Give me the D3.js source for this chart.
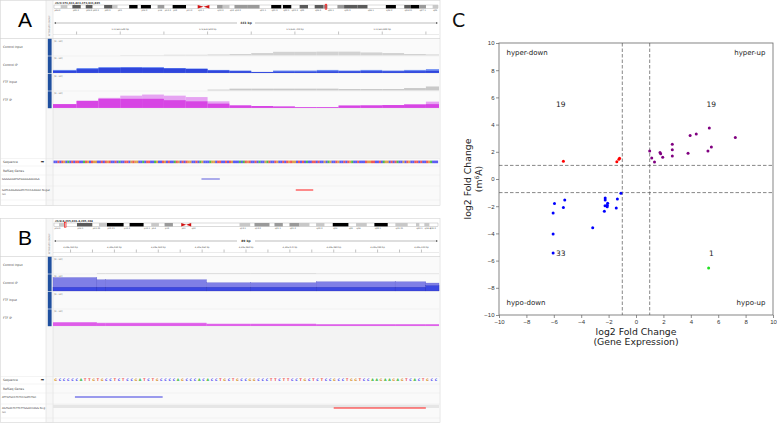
<!DOCTYPE html>
<html>
<head>
<meta charset="utf-8">
<script src="https://cdn.jsdelivr.net/npm/d3@7"></script>
<style>
  body { margin: 0; background: #fff; }
  svg { display: block; font-family: "DejaVu Sans", sans-serif; }
</style>
</head>
<body>
<svg id="fig" width="777" height="424"></svg>
<script>
// ---------- scatter (panel C) data ----------
const hyperUpX   = [1.0, 1.15, 1.35, 1.75, 1.8, 1.95, 2.65, 2.65, 2.65, 3.8, 3.95, 4.4, 5.25, 5.5, 5.35, 7.25];
const hyperUpY   = [2.05, 1.55, 1.25, 1.95, 1.85, 1.6, 2.55, 2.15, 1.7, 1.9, 3.2, 3.3, 2.05, 2.35, 3.75, 3.05];
const hyperDownX = [-5.3, -1.4, -1.25, -1.2];
const hyperDownY = [1.3, 1.27, 1.45, 1.52];
const hypoDownX  = [-1.1, -5.95, -5.2, -6.05, -5.3, -2.25, -2.25, -2.07, -2.1, -2.26, -2.1, -2.31, -1.36, -1.44, -3.16, -6.05, -6.05];
const hypoDownY  = [-1.05, -1.8, -1.55, -2.5, -2.1, -1.4, -1.55, -1.79, -1.93, -1.96, -2.04, -2.38, -1.47, -2.13, -3.58, -4.05, -5.45];
const hypoUpX    = [5.3];
const hypoUpY    = [-6.55];
const quadrantNames  = ["hyper-down", "hyper-up", "hypo-down", "hypo-up"];
const quadrantCounts = [19, 19, 33, 1];
const axisTicks = [-10, -8, -6, -4, -2, 0, 2, 4, 6, 8, 10];
const cutoffs = [-1, 1];

// ---------- genome browser (panels A, B) data ----------
const trackNames = ["Control Input", "Control IP", "FTF Input", "FTF IP"];

const regionA = {chr: "chr3", start: 173631423, end: 173631865};
const binEdgesA = [173631423, 173631450, 173631475, 173631500, 173631525, 173631550, 173631575, 173631600,
                   173631625, 173631650, 173631675, 173631700, 173631725, 173631750, 173631775, 173631800,
                   173631825, 173631850, 173631865];
const ctrlInputA = [0, 0, 0, 0.2, 0.2, 0.4, 0.4, 0.6, 0.9, 1.5, 2.3, 2.3, 2.4, 2.4, 1.9, 1.5, 0.9, 0.6];
const ctrlIpHiA  = [1.9, 3.1, 3.7, 3.7, 3.7, 3.1, 2.8, 1.9, 1.5, 0.6, 1.5, 1.5, 1.9, 1.5, 1.9, 1.5, 1.9, 2.4];
const ctrlIpLoA  = [1.3, 2.4, 3.1, 3.3, 3.1, 2.8, 2.5, 1.5, 1.1, 0.6, 0.8, 0.8, 1.0, 1.0, 1.1, 1.0, 1.1, 1.3];
const ftfInputA  = [0, 0, 0, 0, 0, 0, 0, 0.5, 1.1, 1.1, 1.1, 1.1, 1.1, 0.9, 0.9, 0.9, 1.5, 2.5];
const ftfIpHiA   = [2.4, 4.5, 6.4, 7.8, 8.5, 7.8, 6.9, 4.2, 1.8, 0.9, 0.9, 0.5, 0.5, 1.5, 1.6, 1.8, 2.2, 4.0];
const ftfIpLoA   = [2.4, 4.5, 5.8, 5.8, 5.8, 4.9, 4.2, 2.7, 1.5, 1.2, 0.9, 0.5, 0.5, 1.5, 1.6, 1.8, 2.2, 2.4];
const rulerLabelsA = [173631500, 173631600, 173631700, 173631800];
const rulerTicksA  = [173631450, 173631500, 173631550, 173631600, 173631650, 173631700, 173631750, 173631800, 173631850];
const seqA = "CCTCTGCACTCTTCCATGCTGGCCTCTGTCCTCACCTTCGTGGCCACTTCCAGCCTGCTCCATGCTCTGGCCTCAGCCCAGGCTTCCTCTGCCCACATGTCCTCACCGATCCTGCCTCTGTGGCTCTCACCTTCTCCGCAGCCTGCCTCTGACCTCCCTGGTTCCTCAGGCTCTACCGCTGCCTTCTCCTGACCC";
const featuresA = [
  {name: "GGGGAAATGTGGGGAAAAGA", start: 173631593, end: 173631614, color: "#5c5cdc"},
  {name: "GATCAAGAGGATCTCCCAAGGC Negat", name2: "ive", start: 173631701, end: 173631721, color: "#ff1a1a"}
];
const bandsA = [
  [20,"gneg","p26.2"],[20,"gpos25"],[15,"gneg"],[25,"gpos75","p25.3"],[15,"gneg"],[20,"gpos75","p24.3"],[35,"gneg","p23.3"],
  [25,"gpos75","p22.2"],[15,"gpos25"],[35,"gneg","p21"],[25,"gpos100"],[10,"gneg"],[30,"gpos100","p16.2"],[20,"gneg"],
  [20,"gpos50","p14"],[25,"gneg","p13.3"],[40,"gpos100","p12"],[35,"gneg","p11.2"],[35,"acen","q11.1"],[23,"gneg"],
  [17,"gpos50","q12.2"],[20,"gpos25"],[15,"gneg","q13"],[40,"gpos50","q13.2"],[35,"gpos50"],[35,"gneg","q21.1"],
  [30,"gpos100","q21.3"],[5,"gneg"],[25,"gpos100","q22.1"],[25,"gneg","q22.3"],[25,"gpos75","q23"],[20,"gneg"],
  [25,"gpos75","q24.3"],[13,"gpos50"],[30,"gneg","q25.1"],[20,"gpos50"],[40,"gpos75","q25.3"],[30,"gpos75"],
  [55,"gneg","q26.1"],[30,"gpos100","q26.2"],[25,"gneg"],[20,"gpos75","q26.31"],[25,"gpos100"],[20,"gpos50","q27.1"],
  [20,"gneg"],[16,"gpos25","q29"]
];
const markerA = 0.708;

const regionB = {chr: "chr4", start: 4295016, end: 4295104};
const binEdgesB = [4295016, 4295026, 4295028, 4295051, 4295061, 4295076, 4295094, 4295101, 4295104];
const ctrlInputB = [0, 0.25, 0.25, 0.25, 0.25, 0.15, 0.15, 0.15];
const ctrlIpHiB  = [8.5, 7.1, 7.1, 5.2, 5.2, 5.8, 5.8, 5.0];
const ctrlIpLoB  = [2.3, 2.3, 2.3, 2.3, 2.3, 2.3, 2.3, 3.3];
const ftfInputB  = [0, 0, 0, 0, 0, 0, 0, 0];
const ftfIpHiB   = [2.4, 2.0, 2.0, 1.4, 1.4, 1.1, 1.1, 1.1];
const ftfIpLoB   = [2.0, 1.6, 1.6, 1.1, 1.1, 0.8, 0.8, 0.8];
const rulerLabelsB = [4295020, 4295030, 4295040, 4295050, 4295060, 4295070, 4295080, 4295090, 4295100];
const rulerTicksB  = [4295020, 4295025, 4295030, 4295035, 4295040, 4295045, 4295050, 4295055, 4295060,
                      4295065, 4295070, 4295075, 4295080, 4295085, 4295090, 4295095, 4295100];
const seqB = "GCCCCCATTGTGCCTCTCCGATCTGCCCCAGCCCACACCTGCTGCCGGCCCTTCTTCCTGCTCTCCGCCTGGTCCAAGAAGAGTCACTGCC";
const featuresB = [
  {name: "ATTGTGCCTCTCCGATCTGC", start: 4295021, end: 4295041, color: "#3a3ae0"},
  {name: "AGTGACTCTTCTTGGACCAGG Neg", name2: "ive", start: 4295080, end: 4295101, color: "#ff1a1a", shade: true}
];
const bandsB = [
  [15,"gneg","p16.3"],[20,"gpos25"],[34,"gneg"],[46,"gpos75","p16.1"],[20,"gneg","p15.33"],[24,"gpos25"],[50,"gpos100","p15.31"],
  [18,"gneg","p15.2"],[42,"gpos100"],[23,"gneg","p15.1"],[23,"gpos25","p14"],[17,"gneg"],[25,"gpos50","p13"],[25,"gneg"],
  [30,"acen","p11"],[125,"gneg","q12"],[20,"gneg"],[32,"gpos25","q13.1"],[13,"gneg"],[45,"gpos50","q13.2"],[15,"gneg"],
  [25,"gpos50","q21.1"],[20,"gneg"],[30,"gpos50","q21.3"],[30,"gpos25"],[20,"gneg"],[25,"gpos25","q22.2"],[25,"gneg"],
  [47,"gpos100","q24"],[23,"gneg","q25"],[32,"gpos25","q26"],[23,"gneg"],[40,"gpos100","q28.1"],[23,"gneg"],
  [37,"gpos25","q31.21"],[25,"gneg"],[10,"gpos25","q32.1"],[15,"gneg"],[15,"gpos25","q34.3"],[26,"gneg","q35.2"]
];
const markerB = 0.029;

// ---------- drawing ----------
const svg = d3.select("#fig");
svg.append("rect").attr("width", 777).attr("height", 424).attr("fill", "#fff");

const stainColor = {gneg: "#ffffff", gpos25: "#c8c8c8", gpos50: "#9a9a9a", gpos75: "#5a5a5a", gpos100: "#000000"};
const baseColor = {A: "#22b022", C: "#3434f0", G: "#d58a20", T: "#ee3030"};
const fmt = d3.format(",");

function drawIgv(p) {
  const g = svg.append("g").attr("transform", `translate(0,${p.top})`);
  const x0 = 53, x1 = 439, H = p.height;
  const x = d3.scaleLinear().domain([p.region.start, p.region.end]).range([x0, x1]);

  // frame and columns
  g.append("rect").attr("x", 0.5).attr("y", 0.5).attr("width", 439.5).attr("height", H)
    .attr("fill", "#fff").attr("stroke", "#d4d4d4").attr("stroke-width", 0.6);
  g.append("rect").attr("x", x0).attr("y", 38.5).attr("width", x1 - x0).attr("height", H - 38.5).attr("fill", "#fafafa");
  g.append("rect").attr("x", x0).attr("y", 108.5).attr("width", x1 - x0).attr("height", 50).attr("fill", "#f3f3f3");
  g.append("rect").attr("x", 46).attr("y", 0.5).attr("width", 7).attr("height", H)
    .attr("fill", "#f7f7f7").attr("stroke", "#d8d8d8").attr("stroke-width", 0.5);
  g.append("line").attr("x1", 0).attr("x2", 440).attr("y1", 38.5).attr("y2", 38.5).attr("stroke", "#cfcfcf").attr("stroke-width", 0.6);
  g.append("text").attr("transform", "translate(50,36) rotate(-90)").attr("font-size", 2.2).attr("fill", "#888")
    .text("ATTRIBUTE GROUP");

  // panel letter
  g.append("text").attr("x", 25).attr("y", 27).attr("text-anchor", "middle")
    .attr("font-family", "Liberation Sans, Arial, sans-serif").attr("font-size", 21).text(p.letter);

  // locus
  g.append("text").attr("x", x0 + 2).attr("y", 3.6).attr("font-size", 2.6).attr("font-weight", "bold").attr("fill", "#333")
    .text(`${p.region.chr}:${fmt(p.region.start)}-${fmt(p.region.end)}`);

  // ideogram
  const total = d3.sum(p.bands, d => d[0]);
  const cum = [0, ...d3.cumsum(p.bands, d => d[0])];
  const ix = d3.scaleLinear().domain([0, total]).range([x0 + 1, x1 - 1]);
  const ideo = g.append("g");
  ideo.append("rect").attr("x", ix(0)).attr("y", 5).attr("width", ix(total) - ix(0)).attr("height", 3.4)
    .attr("fill", "#fff").attr("stroke", "#888").attr("stroke-width", 0.3);
  p.bands.forEach((b, i) => {
    if (b[1] === "acen") {
      const a = ix(cum[i]), c = ix(cum[i + 1]), m = (a + c) / 2;
      ideo.append("path").attr("d", `M${a},5L${m},6.7L${a},8.4Z`).attr("fill", "#d01010");
      ideo.append("path").attr("d", `M${c},5L${m},6.7L${c},8.4Z`).attr("fill", "#d01010");
    } else if (b[1] !== "gneg") {
      ideo.append("rect").attr("x", ix(cum[i])).attr("y", 5).attr("width", ix(cum[i + 1]) - ix(cum[i])).attr("height", 3.4)
        .attr("fill", stainColor[b[1]]);
    }
    if (b[2]) {
      ideo.append("text").attr("x", ix(cum[i]) + 0.5).attr("y", 11).attr("font-size", 2.1).attr("fill", "#555").text(b[2]);
    }
  });
  ideo.append("rect").attr("x", ix(p.marker * total) - 0.7).attr("y", 4.2).attr("width", 1.6).attr("height", 5)
    .attr("fill", "none").attr("stroke", "#f00").attr("stroke-width", 0.6);

  // ruler
  const len = p.region.end - p.region.start + 1;
  const mid = (x0 + x1) / 2;
  g.append("line").attr("x1", x0 + 2).attr("x2", x1 - 2).attr("y1", 23).attr("y2", 23).attr("stroke", "#555").attr("stroke-width", 0.4);
  g.append("path").attr("d", `M${x0 + 1},23l2,-1v2Z M${x1 - 1},23l-2,-1v2Z`).attr("fill", "#555");
  g.append("rect").attr("x", mid - 9).attr("y", 21).attr("width", 18).attr("height", 4).attr("fill", "#fff");
  g.append("text").attr("x", mid).attr("y", 24.1).attr("text-anchor", "middle").attr("font-size", 3)
    .attr("font-weight", "bold").attr("fill", "#333").text(`${len} bp`);
  g.selectAll(null).data(p.rulerLabels).join("text")
    .attr("x", d => x(d)).attr("y", 29.8).attr("text-anchor", "middle").attr("font-size", 2.2).attr("fill", "#444")
    .text(d => `${fmt(d)} bp`);
  g.selectAll(null).data(p.rulerTicks).join("line")
    .attr("x1", d => x(d)).attr("x2", d => x(d)).attr("y1", 31.5).attr("y2", 34.5).attr("stroke", "#666").attr("stroke-width", 0.4);
  g.append("line").attr("x1", x0).attr("x2", x1).attr("y1", 34.5).attr("y2", 34.5).attr("stroke", "#bbb").attr("stroke-width", 0.3);

  // tracks
  const th = 17.5;
  p.tracks.forEach((t, k) => {
    const top = 38.5 + k * th;
    const vy = d3.scaleLinear().domain([0, 10]).range([top + th - 0.6, top + 1.2]);
    g.append("rect").attr("x", 47.8).attr("y", top + 0.3).attr("width", 3.8).attr("height", th - 0.6).attr("fill", "#1f4f9f");
    g.append("text").attr("x", 3).attr("y", top + th / 2 + 1).attr("font-size", 3).attr("fill", "#444").text(trackNames[k]);
    g.append("line").attr("x1", x0).attr("x2", x1).attr("y1", top + th).attr("y2", top + th)
      .attr("stroke", "#e2e2e2").attr("stroke-width", 0.4);
    t.layers.forEach(layer => {
      g.selectAll(null).data(layer.values).join("rect")
        .attr("x", (d, i) => x(p.edges[i]))
        .attr("width", (d, i) => x(p.edges[i + 1]) - x(p.edges[i]))
        .attr("y", d => vy(d))
        .attr("height", d => vy(0) - vy(d))
        .attr("fill", layer.color)
        .attr("stroke", layer.edge || "none").attr("stroke-width", 0.3);
    });
    g.append("text").attr("x", x0 + 1.2).attr("y", top + 3.2).attr("font-size", 2.2).attr("fill", "#555").text("[0 - 10]");
  });

  // lower rows
  const rows = [158.5, 166, 175, 186, 200];
  g.selectAll(null).data(rows).join("line")
    .attr("x1", 0).attr("x2", 440).attr("y1", d => d).attr("y2", d => d).attr("stroke", "#e3e3e3").attr("stroke-width", 0.4);
  g.append("text").attr("x", 3).attr("y", 163).attr("font-size", 3).attr("fill", "#444").text("Sequence");
  g.append("text").attr("x", 44).attr("y", 163.2).attr("text-anchor", "end").attr("font-size", 4).attr("fill", "#111").text("➡");
  g.append("text").attr("x", 3).attr("y", 171.5).attr("font-size", 3).attr("fill", "#444").text("RefSeq Genes");

  const sx = d3.scaleLinear().domain([0, p.seq.length]).range([x0 + 0.5, x1 - 1]);
  const bases = p.seq.split("");
  if (p.seqLetters) {
    g.selectAll(null).data(bases).join("text")
      .attr("x", (d, i) => sx(i + 0.5)).attr("y", 162.7).attr("text-anchor", "middle")
      .attr("font-size", 3.3).attr("font-weight", "bold").attr("fill", d => baseColor[d]).text(d => d);
  } else {
    g.selectAll(null).data(bases).join("rect")
      .attr("x", (d, i) => sx(i)).attr("width", (d, i) => sx(i + 1) - sx(i) + 0.1)
      .attr("y", 160.6).attr("height", 2.6).attr("fill", d => baseColor[d]).attr("opacity", 0.8);
  }

  const fy = [179, 190];
  p.features.forEach((f, k) => {
    if (f.shade) {
      g.append("rect").attr("x", x0).attr("y", fy[k] - 3.3).attr("width", x1 - x0).attr("height", 3.3).attr("fill", "#e6e6e6");
    }
    g.append("line").attr("x1", x(f.start)).attr("x2", x(f.end)).attr("y1", fy[k]).attr("y2", fy[k])
      .attr("stroke", f.color).attr("stroke-width", 1);
    g.append("text").attr("x", 2).attr("y", fy[k] + 1).attr("font-size", 2.6).attr("fill", "#444").text(f.name);
    if (f.name2) g.append("text").attr("x", 2).attr("y", fy[k] + 5).attr("font-size", 2.6).attr("fill", "#444").text(f.name2);
  });
}

drawIgv({
  letter: "A", top: 0, height: 205, region: regionA, edges: binEdgesA, bands: bandsA, marker: markerA,
  rulerLabels: rulerLabelsA, rulerTicks: rulerTicksA, seq: seqA, seqLetters: false, features: featuresA,
  tracks: [
    {layers: [{values: ctrlInputA, color: "#d2d2d2"}]},
    {layers: [{values: ctrlIpHiA, color: "#6d8cf2"}, {values: ctrlIpLoA, color: "#2f45dc"}]},
    {layers: [{values: ftfInputA, color: "#c9c9c9"}]},
    {layers: [{values: ftfIpHiA, color: "#e6a4f2"}, {values: ftfIpLoA, color: "#d745e4"}]}
  ]
});

drawIgv({
  letter: "B", top: 218, height: 204, region: regionB, edges: binEdgesB, bands: bandsB, marker: markerB,
  rulerLabels: rulerLabelsB, rulerTicks: rulerTicksB, seq: seqB, seqLetters: true, features: featuresB,
  tracks: [
    {layers: [{values: ctrlInputB, color: "#bdbdbd"}]},
    {layers: [{values: ctrlIpHiB, color: "#7f7fe6", edge: "#5656cc"}, {values: ctrlIpLoB, color: "#3c48e2", edge: "#2a32b8"}]},
    {layers: [{values: ftfInputB, color: "#c9c9c9"}]},
    {layers: [{values: ftfIpHiB, color: "#e483ee"}, {values: ftfIpLoB, color: "#de5ce8"}]}
  ]
});

// ---------- panel C scatter ----------
const x = d3.scaleLinear().domain([-10, 10]).range([499, 773]);
const y = d3.scaleLinear().domain([-10, 10]).range([315, 43]);
const c = svg.append("g");

c.append("text").attr("x", 452).attr("y", 27).attr("font-size", 19).attr("fill", "#111").text("C");

c.append("g").attr("transform", "translate(0,315)")
  .call(d3.axisBottom(x).tickValues(axisTicks).tickSize(3).tickPadding(1.5))
  .call(a => a.selectAll("text").attr("font-size", 6).attr("fill", "#333"))
  .call(a => a.selectAll("line").attr("stroke", "#444").attr("stroke-width", 0.6))
  .call(a => a.select(".domain").remove());
c.append("g").attr("transform", "translate(499,0)")
  .call(d3.axisLeft(y).tickValues(axisTicks).tickSize(3).tickPadding(1.5))
  .call(a => a.selectAll("text").attr("font-size", 6).attr("fill", "#333"))
  .call(a => a.selectAll("line").attr("stroke", "#444").attr("stroke-width", 0.6))
  .call(a => a.select(".domain").remove());

c.append("rect").attr("x", x(-10)).attr("y", y(10)).attr("width", x(10) - x(-10)).attr("height", y(-10) - y(10))
  .attr("fill", "none").attr("stroke", "#666").attr("stroke-width", 0.8);

// cutoff lines
c.selectAll(null).data(cutoffs).join("line")
  .attr("x1", d => x(d)).attr("x2", d => x(d)).attr("y1", y(10)).attr("y2", y(-10))
  .attr("stroke", "#555").attr("stroke-width", 0.7).attr("stroke-dasharray", "3.5,2");
c.selectAll(null).data(cutoffs).join("line")
  .attr("y1", d => y(d)).attr("y2", d => y(d)).attr("x1", x(-10)).attr("x2", x(10))
  .attr("stroke", "#555").attr("stroke-width", 0.7).attr("stroke-dasharray", "3.5,2");

// points
const groups = [
  {xs: hyperUpX, ys: hyperUpY, color: "#800080"},
  {xs: hyperDownX, ys: hyperDownY, color: "#ff0000"},
  {xs: hypoDownX, ys: hypoDownY, color: "#0000ff"},
  {xs: hypoUpX, ys: hypoUpY, color: "#22e022"}
];
groups.forEach(gr => {
  c.selectAll(null).data(d3.zip(gr.xs, gr.ys)).join("circle")
    .attr("cx", d => x(d[0])).attr("cy", d => y(d[1])).attr("r", 1.5).attr("fill", gr.color);
});

// quadrant names and counts: order hyper-down, hyper-up, hypo-down, hypo-up
const qx = [-1, 1, -1, 1], qy = [1, 1, -1, -1];
quadrantNames.forEach((name, i) => {
  c.append("text")
    .attr("x", x(qx[i] * 9.45)).attr("y", y(qy[i] > 0 ? 9.1 : -9.25))
    .attr("text-anchor", qx[i] < 0 ? "start" : "end")
    .attr("font-size", 7).attr("fill", "#222").text(name);
  c.append("text")
    .attr("x", x(qx[i] * 5.5)).attr("y", y(qy[i] * 5.5)).attr("dy", "0.35em")
    .attr("text-anchor", "middle").attr("font-size", 7.5).attr("fill", "#222").text(quadrantCounts[i]);
});

// axis titles
const xt = c.append("text").attr("text-anchor", "middle").attr("font-size", 9.3).attr("fill", "#222");
xt.append("tspan").attr("x", x(0)).attr("y", 334.5).text("log2 Fold Change");
xt.append("tspan").attr("x", x(0)).attr("y", 345).text("(Gene Expression)");

const yt = c.append("text").attr("text-anchor", "middle").attr("font-size", 9.3).attr("fill", "#222")
  .attr("transform", `translate(0,${y(0)}) rotate(-90)`);
yt.append("tspan").attr("x", 0).attr("y", 471).text("log2 Fold Change");
const yt2 = yt.append("tspan").attr("x", 0).attr("y", 481.5);
yt2.append("tspan").text("(m");
yt2.append("tspan").attr("font-size", 6).attr("dy", -3).text("6");
yt2.append("tspan").attr("dy", 3).text("A)");
</script>
</body>
</html>
